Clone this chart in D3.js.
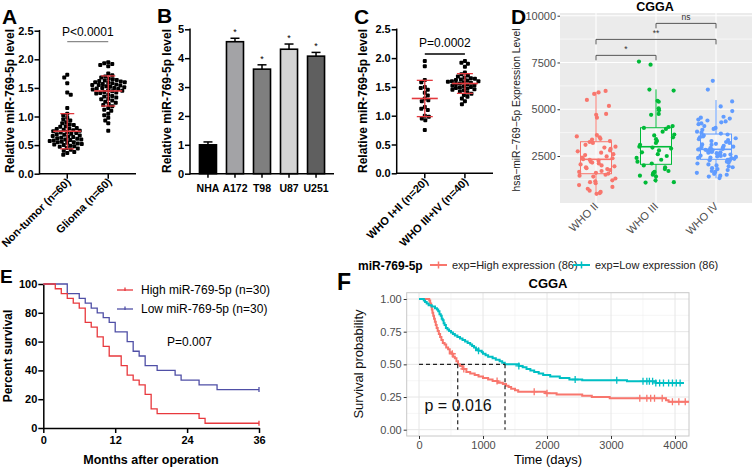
<!DOCTYPE html>
<html><head><meta charset="utf-8">
<script src="https://cdn.jsdelivr.net/npm/d3@7"></script>
<style>
body{margin:0;background:#fff}
svg{display:block}
text{font-family:"Liberation Sans",Arial,Helvetica,sans-serif}
</style>
</head><body>
<svg id="c" width="753" height="468"></svg>
<script>
// ---------------- DATA ----------------
// Panel A
const aCategories = ["Non-tumor (n=60)", "Glioma (n=60)"];
const aNonTumor = [1.73,1.68,1.58,1.42,1.38,1.15,1.05,1.02,0.98,0.95,0.93,0.9,0.88,0.86,0.85,0.83,0.82,0.8,0.79,0.78,0.77,0.76,0.75,0.74,0.73,0.72,0.71,0.7,0.69,0.68,0.67,0.66,0.65,0.64,0.63,0.62,0.61,0.6,0.6,0.59,0.58,0.57,0.56,0.55,0.55,0.54,0.53,0.52,0.51,0.5,0.49,0.48,0.47,0.45,0.44,0.42,0.4,0.38,0.36,0.33];
const aGlioma = [1.95,1.93,1.92,1.9,1.88,1.75,1.72,1.7,1.68,1.66,1.65,1.64,1.63,1.62,1.61,1.6,1.6,1.59,1.58,1.57,1.56,1.55,1.55,1.54,1.53,1.52,1.51,1.5,1.5,1.49,1.48,1.47,1.46,1.45,1.44,1.43,1.42,1.41,1.4,1.38,1.36,1.35,1.33,1.31,1.3,1.28,1.26,1.24,1.22,1.2,1.18,1.15,1.12,1.1,1.05,1.02,0.98,0.93,0.88,0.75];
const aYTicks = [0, 0.5, 1, 1.5, 2, 2.5];
const aPText = "P<0.0001";

// Panel B
const bCategories = ["NHA", "A172", "T98", "U87", "U251"];
const bValues = [1.0, 4.57, 3.62, 4.31, 4.07];
const bErrors = [0.1, 0.12, 0.15, 0.18, 0.13];
const bStars = ["", "*", "*", "*", "*"];
const bYTicks = [0, 1, 2, 3, 4, 5];

// Panel C
const cCategories = ["WHO I+II (n=20)", "WHO III+IV (n=40)"];
const cLowGrade = [1.95,1.86,1.62,1.58,1.5,1.48,1.45,1.4,1.35,1.3,1.27,1.25,1.15,1.12,1.1,1.0,0.98,0.95,0.92,0.75];
const cHighGrade = [1.95,1.92,1.9,1.85,1.75,1.72,1.7,1.68,1.66,1.65,1.64,1.63,1.62,1.61,1.6,1.6,1.59,1.58,1.57,1.56,1.55,1.54,1.53,1.52,1.51,1.5,1.49,1.48,1.47,1.46,1.45,1.44,1.42,1.4,1.38,1.36,1.33,1.3,1.25,1.2];
const cYTicks = [0, 0.5, 1, 1.5, 2, 2.5];
const cPText = "P=0.0002";

// Panel D
const dCategories = ["WHO II", "WHO III", "WHO IV"];
const dWHO2 = [5980,5900,5820,5500,5180,4750,4700,4550,3620,3550,3500,3420,3380,3300,3250,3200,3100,3000,2950,2880,2800,2750,2680,2600,2550,2480,2420,2380,2330,2300,2250,2200,2150,2100,2050,2000,1950,1900,1850,1800,1750,1700,1650,1600,1560,1500,1450,1400,1300,1200,1150,1100,1050,950,850,750,650,580,520,480];
const dWHO3 = [7550,7380,6050,6000,5450,5400,5050,4950,4750,4700,4100,4050,4000,3950,3800,3650,3600,3500,3400,3300,3200,3100,3000,2950,2900,2800,2700,2600,2500,2400,2300,2200,2100,2000,1900,1800,1700,1650,1600,1550,1500,1450,1400,1200,1100,1080];
const dWHO4 = [6520,6050,5420,5150,4900,4600,4550,4500,4450,4400,4350,4300,4250,4200,4100,4000,3950,3900,3800,3750,3700,3650,3600,3550,3500,3450,3400,3350,3300,3250,3200,3150,3120,3100,3050,3000,2980,2950,2920,2900,2880,2860,2850,2830,2800,2780,2750,2720,2700,2680,2650,2620,2600,2580,2550,2520,2500,2480,2450,2420,2400,2380,2350,2320,2300,2280,2250,2200,2150,2100,2050,2000,1950,1900,1850,1800,1750,1700,1650,1600,1550,1500,1450,1400,1320];
const dBoxQ1 = [1555, 2057, 2324];
const dBoxMedian = [2324, 2997, 2858];
const dBoxQ3 = [3264, 4012, 3675];
const dWhiskerLow = [450, 1074, 1309];
const dWhiskerHigh = [5935, 6063, 5492];
const dYTicks = [2500, 5000, 7500, 10000];
const dYMinor = [1250, 3750, 6250, 8750];
const dCompFrom = [0, 0, 1];
const dCompTo = [1, 2, 2];
const dCompLabel = ["*", "**", "ns"];
const dCompLevel = [7880, 8734, 9589];

// Panel E
const eHighMonths = [0,2,3,4,5,6,7,8,9,10,11,13,14,15,16,17,18,19,26,27,36];
const eHighSurvival = [100,96.7,93.3,90,86.7,83.3,73.3,70,63.3,56.7,50,43.3,36.7,33.3,30,23.3,13.3,10,6.7,3.3,3.3];
const eLowMonths = [0,4,6,7,8,9,10,11,12,14,15,16,17,19,22,23,26,29,36];
const eLowSurvival = [100,93.3,90,86.7,83.3,80,76.7,73.3,66.7,60,53.3,50,43.3,40,36.7,33.3,30,26.7,26.7];
const eXTicks = [0, 12, 24, 36];
const eYTicks = [0, 20, 40, 60, 80, 100];
const eLegend = ["High miR-769-5p (n=30)", "Low miR-769-5p (n=30)"];
const ePText = "P=0.007";

// Panel F
const fHighDays = [0,160,175,190,200,210,222,235,248,262,276,292,310,330,350,372,400,425,455,480,510,535,560,585,610,640,680,740,800,870,930,1000,1080,1150,1230,1310,1360,1400,1440,1500,1550,1980,2150,2550,2700,2980,3860,3900,4219];
const fHighSurv = [1,0.988,0.965,0.942,0.919,0.895,0.872,0.849,0.826,0.802,0.779,0.756,0.733,0.709,0.686,0.663,0.651,0.628,0.616,0.593,0.581,0.558,0.547,0.523,0.5,0.488,0.465,0.442,0.43,0.419,0.407,0.395,0.384,0.372,0.36,0.349,0.337,0.326,0.314,0.302,0.291,0.279,0.27,0.26,0.25,0.24,0.226,0.214,0.214];
const fLowDays = [0,75,95,120,150,200,250,280,300,320,340,355,370,385,400,420,445,470,500,530,560,600,640,680,720,760,800,830,860,890,930,980,1000,1040,1080,1150,1200,1260,1300,1340,1560,1620,1680,1740,1800,1870,1940,2050,2200,2350,2550,3250,3700,4140];
const fLowSurv = [1,0.988,0.977,0.965,0.953,0.942,0.93,0.919,0.907,0.884,0.872,0.849,0.837,0.814,0.802,0.779,0.767,0.756,0.744,0.733,0.721,0.709,0.698,0.686,0.674,0.663,0.651,0.64,0.628,0.616,0.605,0.593,0.581,0.57,0.558,0.547,0.535,0.523,0.512,0.5,0.488,0.477,0.465,0.453,0.442,0.43,0.419,0.407,0.395,0.384,0.378,0.37,0.358,0.358];
const fHighCensor = [520,700,1220,1800,2000,3450,3560,3620,3680,3800,3960,4060,4160];
const fLowCensor = [930,1560,2440,3090,3500,3560,3600,3650,3700,3760,3820,3900,3960,4020,4080];
const fMedians = [605, 1344];
const fXTicks = [0, 1000, 2000, 3000, 4000];
const fXMinor = [500, 1500, 2500, 3500];
const fYTicks = [0, 0.25, 0.5, 0.75, 1];
const fYMinor = [0.125, 0.375, 0.625, 0.875];
const fLegend = ["exp=High expression (86)", "exp=Low expression (86)"];
const fPText = "p = 0.016";

// ---------------- DRAW ----------------
const svg = d3.select("#c");
svg.append("rect").attr("width", 753).attr("height", 468).attr("fill", "#fff");
const FONT = '"Liberation Sans",Arial,Helvetica,sans-serif';

function letter(t, x, y, size) {
  svg.append("text").attr("x", x).attr("y", y).attr("font-size", size).attr("font-weight", "bold").text(t);
}

function swarm(vals, yScale, cx, d) {
  const pts = vals.map(v => ({v, y: yScale(v)})).sort((a, b) => a.y - b.y);
  const placed = [];
  pts.forEach((p, idx) => {
    let best = null;
    for (let k = 0; k < 400 && best === null; k++) {
      const s = idx % 2 ? -1 : 1;
      const offs = k === 0 ? [0] : [s * k * 0.5, -s * k * 0.5];
      for (const o of offs) {
        if (placed.every(q => (q.x - (cx + o)) ** 2 + (q.y - p.y) ** 2 >= d * d)) { best = o; break; }
      }
    }
    p.x = cx + best; placed.push(p);
  });
  return placed;
}

function prismAxes(g, yScale, ticks, fmt, xAxisX0, xAxisX1, yAxisX, yBottom) {
  const ax = g.append("g").attr("transform", `translate(${yAxisX},0)`)
    .call(d3.axisLeft(yScale).tickValues(ticks).tickFormat(fmt).tickSize(5).tickSizeOuter(0));
  ax.select(".domain").remove();
  ax.selectAll(".tick line").attr("stroke", "#000").attr("stroke-width", 1.5);
  ax.selectAll(".tick text").attr("font-size", 11).attr("font-weight", "bold").attr("font-family", FONT).attr("fill", "#000").attr("x", -6);
  g.append("line").attr("x1", yAxisX).attr("x2", yAxisX).attr("y1", yScale(ticks[ticks.length - 1]) - 0.75).attr("y2", yBottom + 0.75).attr("stroke", "#000").attr("stroke-width", 1.5);
  g.append("line").attr("x1", xAxisX0).attr("x2", xAxisX1).attr("y1", yBottom).attr("y2", yBottom).attr("stroke", "#000").attr("stroke-width", 1.5);
}

function yTitle(text, x, y, size, weight, fill) {
  svg.append("text").attr("transform", `translate(${x},${y}) rotate(-90)`).attr("text-anchor", "middle")
    .attr("font-size", size).attr("font-weight", weight).attr("fill", fill || "#000").text(text);
}

function scatterPanel(valsArr, cats, yScale, centers, yAxisX, xEnd, yTicks, pText, pY, lineY, lineColor, meanHalf, sdHalf) {
  const g = svg.append("g");
  prismAxes(g, yScale, yTicks, d3.format(".1f"), yAxisX, xEnd, yAxisX, yScale(0));
  valsArr.forEach((vals, i) => {
    const pts = swarm(vals, yScale, centers[i], 3.9);
    g.selectAll(null).data(pts).enter().append("rect")
      .attr("x", d => d.x - 2).attr("y", d => d.y - 2).attr("width", 4).attr("height", 4).attr("rx", 1).attr("fill", "#000");
    const m = d3.mean(vals), sd = d3.deviation(vals);
    const red = "#e3393e";
    g.append("line").attr("x1", centers[i]).attr("x2", centers[i]).attr("y1", yScale(m + sd)).attr("y2", yScale(m - sd)).attr("stroke", red).attr("stroke-width", 1.3);
    g.append("line").attr("x1", centers[i] - meanHalf).attr("x2", centers[i] + meanHalf).attr("y1", yScale(m)).attr("y2", yScale(m)).attr("stroke", red).attr("stroke-width", 1.6);
    [m + sd, m - sd].forEach(v => g.append("line").attr("x1", centers[i] - sdHalf).attr("x2", centers[i] + sdHalf).attr("y1", yScale(v)).attr("y2", yScale(v)).attr("stroke", red).attr("stroke-width", 1.3));
    const y0 = yScale(0);
    g.append("line").attr("x1", centers[i]).attr("x2", centers[i]).attr("y1", y0).attr("y2", y0 + 5).attr("stroke", "#000").attr("stroke-width", 1.5);
    g.append("text").attr("transform", `translate(${centers[i] + 4},${y0 + 9}) rotate(-45)`).attr("text-anchor", "end")
      .attr("font-size", 11).attr("font-weight", "bold").text(cats[i]);
  });
  g.append("text").attr("x", (centers[0] + centers[1]) / 2).attr("y", pY).attr("text-anchor", "middle").attr("font-size", 12).text(pText);
  g.append("line").attr("x1", centers[0]).attr("x2", centers[1]).attr("y1", lineY).attr("y2", lineY).attr("stroke", lineColor).attr("stroke-width", 1.3);
}

// ===== Panel A =====
const ayS = d3.scaleLinear().domain([0, 2.5]).range([173.7, 30.7]);
const axS = d3.scalePoint().domain(aCategories).range([39.5, 136]).padding(0.677);
scatterPanel([aNonTumor, aGlioma], aCategories, ayS, aCategories.map(c => axS(c)), 39.5, 136, aYTicks, aPText, 36, 41.7, "#8a8a8a", 14, 7);
yTitle("Relative miR-769-5p level", 14, 101, 12, "bold");
letter("A", 2, 24, 21);

// ===== Panel B =====
const byS = d3.scaleLinear().domain([0, 5]).range([173.7, 29.3]);
const bxS = d3.scaleBand().domain(bCategories).range([190, 334]).paddingInner(0.37).paddingOuter(0.35);
const bColors = ["#000000", "#a3a3a6", "#7f7f7f", "#d4d4d4", "#5f5f5f"];
{
  const g = svg.append("g");
  prismAxes(g, byS, bYTicks, d3.format("d"), 190, 334, 190, byS(0));
  bCategories.forEach((c, i) => {
    const x = bxS(c), w = bxS.bandwidth(), cx = x + w / 2;
    g.append("line").attr("x1", cx).attr("x2", cx).attr("y1", byS(bValues[i])).attr("y2", byS(bValues[i] + bErrors[i])).attr("stroke", "#000").attr("stroke-width", 1.5);
    g.append("line").attr("x1", cx - 4.5).attr("x2", cx + 4.5).attr("y1", byS(bValues[i] + bErrors[i])).attr("y2", byS(bValues[i] + bErrors[i])).attr("stroke", "#000").attr("stroke-width", 1.5);
    g.append("rect").attr("x", x).attr("y", byS(bValues[i])).attr("width", w).attr("height", byS(0) - byS(bValues[i]))
      .attr("fill", bColors[i]).attr("stroke", "#000").attr("stroke-width", 1.6);
    if (bStars[i]) g.append("text").attr("x", cx).attr("y", byS(bValues[i] + bErrors[i]) - 3).attr("text-anchor", "middle").attr("font-size", 9).text(bStars[i]);
    g.append("line").attr("x1", cx).attr("x2", cx).attr("y1", byS(0)).attr("y2", byS(0) + 4).attr("stroke", "#000").attr("stroke-width", 1.5);
    g.append("text").attr("x", cx).attr("y", 192).attr("text-anchor", "middle").attr("font-size", 10.5).attr("font-weight", "bold").text(c);
  });
}
yTitle("Relative miR-769-5p level", 171, 101, 12, "bold");
letter("B", 157, 23, 21);

// ===== Panel C =====
const cyS = d3.scaleLinear().domain([0, 2.5]).range([173.3, 29.3]);
const cxS = d3.scalePoint().domain(cCategories).range([396.7, 493]).padding(0.7);
scatterPanel([cLowGrade, cHighGrade], cCategories, cyS, cCategories.map(c => cxS(c)), 396.7, 493, cYTicks, cPText, 47, 54, "#000", 13, 8);
yTitle("Relative miR-769-5p level", 367, 101, 12, "bold");
letter("C", 354, 24, 21);

// ===== Panel D =====
const dxS = d3.scalePoint().domain(dCategories).range([560, 752]).padding(0.6);
const dyS = d3.scaleLinear().domain([0, 10000]).range([202.8, 15.7]);
const dColors = ["#F8766D", "#00BA38", "#619CFF"];
{
  const g = svg.append("g");
  g.append("rect").attr("x", 560).attr("y", 13).attr("width", 192).attr("height", 190).attr("fill", "#ebebeb");
  dYMinor.forEach(v => g.append("line").attr("x1", 560).attr("x2", 752).attr("y1", dyS(v)).attr("y2", dyS(v)).attr("stroke", "#fff").attr("stroke-width", 0.6));
  dYTicks.forEach(v => g.append("line").attr("x1", 560).attr("x2", 752).attr("y1", dyS(v)).attr("y2", dyS(v)).attr("stroke", "#fff").attr("stroke-width", 1.1));
  dCategories.forEach(c => g.append("line").attr("x1", dxS(c)).attr("x2", dxS(c)).attr("y1", 13).attr("y2", 203).attr("stroke", "#fff").attr("stroke-width", 1.1));
  const ay = g.append("g").attr("transform", "translate(560,0)").call(d3.axisLeft(dyS).tickValues(dYTicks).tickSize(2.5).tickFormat(d3.format("d")));
  ay.select(".domain").remove();
  ay.selectAll(".tick line").attr("stroke", "#333");
  ay.selectAll(".tick text").attr("font-size", 11).attr("fill", "#4d4d4d").attr("font-family", FONT).attr("x", -4);
  const groups = [dWHO2, dWHO3, dWHO4];
  function jit(i, gi) { const s = Math.sin((i + 1) * 12.9898 + (gi + 1) * 78.233) * 43758.5453; return (s - Math.floor(s)) * 2 - 1; }
  dCategories.forEach((c, i) => {
    const cx = dxS(c), col = dColors[i], hw = 15.5;
    g.append("line").attr("x1", cx).attr("x2", cx).attr("y1", dyS(dBoxQ3[i])).attr("y2", dyS(dWhiskerHigh[i])).attr("stroke", col).attr("stroke-width", 1);
    g.append("line").attr("x1", cx).attr("x2", cx).attr("y1", dyS(dBoxQ1[i])).attr("y2", dyS(dWhiskerLow[i])).attr("stroke", col).attr("stroke-width", 1);
    g.append("rect").attr("x", cx - hw).attr("y", dyS(dBoxQ3[i])).attr("width", 2 * hw).attr("height", dyS(dBoxQ1[i]) - dyS(dBoxQ3[i]))
      .attr("fill", "#fff").attr("fill-opacity", 0.35).attr("stroke", col).attr("stroke-width", 1);
    g.append("line").attr("x1", cx - hw).attr("x2", cx + hw).attr("y1", dyS(dBoxMedian[i])).attr("y2", dyS(dBoxMedian[i])).attr("stroke", col).attr("stroke-width", 1.6);
    g.selectAll(null).data(groups[i]).enter().append("circle")
      .attr("cx", (d, k) => cx + jit(k, i) * 20).attr("cy", d => dyS(d)).attr("r", 2.1).attr("fill", col);
    g.append("text").attr("transform", `translate(${cx + 3},${207}) rotate(-45)`).attr("text-anchor", "end")
      .attr("font-size", 11).attr("fill", "#4d4d4d").text(c);
  });
  dCompFrom.forEach((f, i) => {
    const x1 = dxS(dCategories[f]), x2 = dxS(dCategories[dCompTo[i]]), y = dyS(dCompLevel[i]);
    g.append("path").attr("d", `M${x1},${y + 5}V${y}H${x2}V${y + 5}`).attr("fill", "none").attr("stroke", "#555").attr("stroke-width", 1);
    g.append("text").attr("x", (x1 + x2) / 2).attr("y", y - 3).attr("text-anchor", "middle").attr("font-size", 8.5).attr("fill", "#333").text(dCompLabel[i]);
  });
  svg.append("text").attr("x", 655).attr("y", 11).attr("text-anchor", "middle").attr("font-size", 12.5).attr("font-weight", "bold").text("CGGA");
}
yTitle("hsa\u2212miR\u2212769\u22125p Expression Level", 520, 110, 10.3, "normal", "#222");
letter("D", 511, 24, 21);

// ===== Panel E =====
const exS = d3.scaleLinear().domain([0, 36]).range([43.3, 259]);
const eyS = d3.scaleLinear().domain([0, 100]).range([428, 284]);
{
  const g = svg.append("g");
  const ay = g.append("g").attr("transform", "translate(43.3,0)").call(d3.axisLeft(eyS).tickValues(eYTicks).tickSize(5).tickSizeOuter(0));
  ay.select(".domain").attr("stroke-width", 1.5);
  ay.selectAll(".tick line").attr("stroke-width", 1.5);
  ay.selectAll(".tick text").attr("font-size", 11).attr("font-weight", "bold").attr("font-family", FONT).attr("x", -6);
  const ax = g.append("g").attr("transform", "translate(0,428)").call(d3.axisBottom(exS).tickValues(eXTicks).tickSize(5).tickSizeOuter(0));
  ax.select(".domain").attr("stroke-width", 1.5);
  ax.selectAll(".tick line").attr("stroke-width", 1.5);
  ax.selectAll(".tick text").attr("font-size", 11).attr("font-weight", "bold").attr("font-family", FONT).attr("y", 8);
  const line = d3.line().curve(d3.curveStepAfter).x(d => exS(d[0])).y(d => eyS(d[1]));
  const cols = ["#e8383d", "#4f4fa6"];
  const series = [d3.zip(eHighMonths, eHighSurvival), d3.zip(eLowMonths, eLowSurvival)];
  series.slice().reverse().forEach((s, ri) => {
    const i = 1 - ri;
    g.append("path").attr("d", line(s)).attr("fill", "none").attr("stroke", cols[i]).attr("stroke-width", 1.3);
    const last = s[s.length - 1];
    g.append("line").attr("x1", exS(last[0])).attr("x2", exS(last[0])).attr("y1", eyS(last[1]) - 2.5).attr("y2", eyS(last[1]) + 2.5).attr("stroke", cols[i]).attr("stroke-width", 1.3);
  });
  eLegend.forEach((t, i) => {
    const y = 290 + i * 19;
    g.append("line").attr("x1", 117).attr("x2", 133).attr("y1", y).attr("y2", y).attr("stroke", cols[i]).attr("stroke-width", 1.3);
    g.append("line").attr("x1", 125).attr("x2", 125).attr("y1", y - 2.5).attr("y2", y + 1).attr("stroke", cols[i]).attr("stroke-width", 1.3);
    g.append("text").attr("x", 141).attr("y", y + 4.3).attr("font-size", 12).text(t);
  });
  g.append("text").attr("x", 167).attr("y", 346).attr("font-size", 12).text(ePText);
  g.append("text").attr("x", 151).attr("y", 464).attr("text-anchor", "middle").attr("font-size", 12.5).attr("font-weight", "bold").text("Months after operation");
}
yTitle("Percent survival", 12, 356, 12, "bold");
letter("E", 0, 283, 19);

// ===== Panel F =====
const fxS = d3.scaleLinear().domain([0, 4000]).range([419, 675]);
const fyS = d3.scaleLinear().domain([0, 1]).range([429.7, 299]);
{
  const g = svg.append("g");
  const px0 = 406.7, px1 = 689, py0 = 292.7, py1 = 436;
  g.append("rect").attr("x", px0).attr("y", py0).attr("width", px1 - px0).attr("height", py1 - py0).attr("fill", "#fff");
  fXMinor.forEach(v => g.append("line").attr("x1", fxS(v)).attr("x2", fxS(v)).attr("y1", py0).attr("y2", py1).attr("stroke", "#f0f0f0").attr("stroke-width", 0.6));
  fYMinor.forEach(v => g.append("line").attr("x1", px0).attr("x2", px1).attr("y1", fyS(v)).attr("y2", fyS(v)).attr("stroke", "#f0f0f0").attr("stroke-width", 0.6));
  fXTicks.forEach(v => g.append("line").attr("x1", fxS(v)).attr("x2", fxS(v)).attr("y1", py0).attr("y2", py1).attr("stroke", "#e6e6e6").attr("stroke-width", 1));
  fYTicks.forEach(v => g.append("line").attr("x1", px0).attr("x2", px1).attr("y1", fyS(v)).attr("y2", fyS(v)).attr("stroke", "#e6e6e6").attr("stroke-width", 1));
  g.append("rect").attr("x", px0).attr("y", py0).attr("width", px1 - px0).attr("height", py1 - py0).attr("fill", "none").attr("stroke", "#c8c8c8").attr("stroke-width", 1);
  const ay = g.append("g").attr("transform", `translate(${px0},0)`).call(d3.axisLeft(fyS).tickValues(fYTicks).tickSize(3).tickFormat(d3.format(".2f")));
  ay.select(".domain").remove();
  ay.selectAll(".tick line").attr("stroke", "#333");
  ay.selectAll(".tick text").attr("font-size", 11).attr("fill", "#4d4d4d").attr("font-family", FONT).attr("x", -5);
  const ax = g.append("g").attr("transform", `translate(0,${py1})`).call(d3.axisBottom(fxS).tickValues(fXTicks).tickSize(3).tickFormat(d3.format("d")));
  ax.select(".domain").remove();
  ax.selectAll(".tick line").attr("stroke", "#333");
  ax.selectAll(".tick text").attr("font-size", 11).attr("fill", "#4d4d4d").attr("font-family", FONT).attr("y", 5);

  const cols = ["#F8766D", "#00BFC4"];
  const line = d3.line().curve(d3.curveStepAfter).x(d => fxS(d[0])).y(d => fyS(d[1]));
  const series = [d3.zip(fHighDays, fHighSurv), d3.zip(fLowDays, fLowSurv)];
  const censors = [fHighCensor, fLowCensor];
  function survAt(s, t) { let v = s[0][1]; s.forEach(p => { if (p[0] <= t) v = p[1]; }); return v; }
  series.forEach((s, i) => {
    g.append("path").attr("d", line(s)).attr("fill", "none").attr("stroke", cols[i]).attr("stroke-width", 2);
    censors[i].forEach(t => {
      const x = fxS(t), y = fyS(survAt(s, t));
      g.append("path").attr("d", `M${x - 3.5},${y}H${x + 3.5}M${x},${y - 3.5}V${y + 3.5}`).attr("stroke", cols[i]).attr("stroke-width", 1.3);
    });
  });
  g.append("path").attr("d", `M${fxS(0)},${fyS(0.5)}H${fxS(fMedians[1])}`).attr("stroke", "#222").attr("stroke-width", 1.2).attr("stroke-dasharray", "4,3").attr("fill", "none");
  fMedians.forEach(m => g.append("path").attr("d", `M${fxS(m)},${fyS(0.5)}V${fyS(0)}`).attr("stroke", "#222").attr("stroke-width", 1.2).attr("stroke-dasharray", "4,3").attr("fill", "none"));
  g.append("text").attr("x", 424.5).attr("y", 410.5).attr("font-size", 16).attr("fill", "#111").text(fPText);
  svg.append("text").attr("x", 548).attr("y", 288).attr("text-anchor", "middle").attr("font-size", 13).attr("font-weight", "bold").text("CGGA");
  svg.append("text").attr("x", 548).attr("y", 464).attr("text-anchor", "middle").attr("font-size", 13).text("Time (days)");
  svg.append("text").attr("x", 358).attr("y", 269.5).attr("font-size", 12).attr("font-weight", "bold").text("miR-769-5p");
  const lx = [430, 573];
  fLegend.forEach((t, i) => {
    const y = 265;
    svg.append("line").attr("x1", lx[i]).attr("x2", lx[i] + 17).attr("y1", y).attr("y2", y).attr("stroke", cols[i]).attr("stroke-width", 2);
    const cx = lx[i] + 8.5;
    svg.append("path").attr("d", `M${cx - 3.5},${y}H${cx + 3.5}M${cx},${y - 3.5}V${y + 3.5}`).attr("stroke", cols[i]).attr("stroke-width", 1.5);
    svg.append("text").attr("x", lx[i] + 22).attr("y", 269.3).attr("font-size", 11).attr("fill", "#222").text(t);
  });
}
yTitle("Survival probability", 363, 364, 13, "normal", "#111");
letter("F", 337, 290, 23);
</script>
</body></html>
